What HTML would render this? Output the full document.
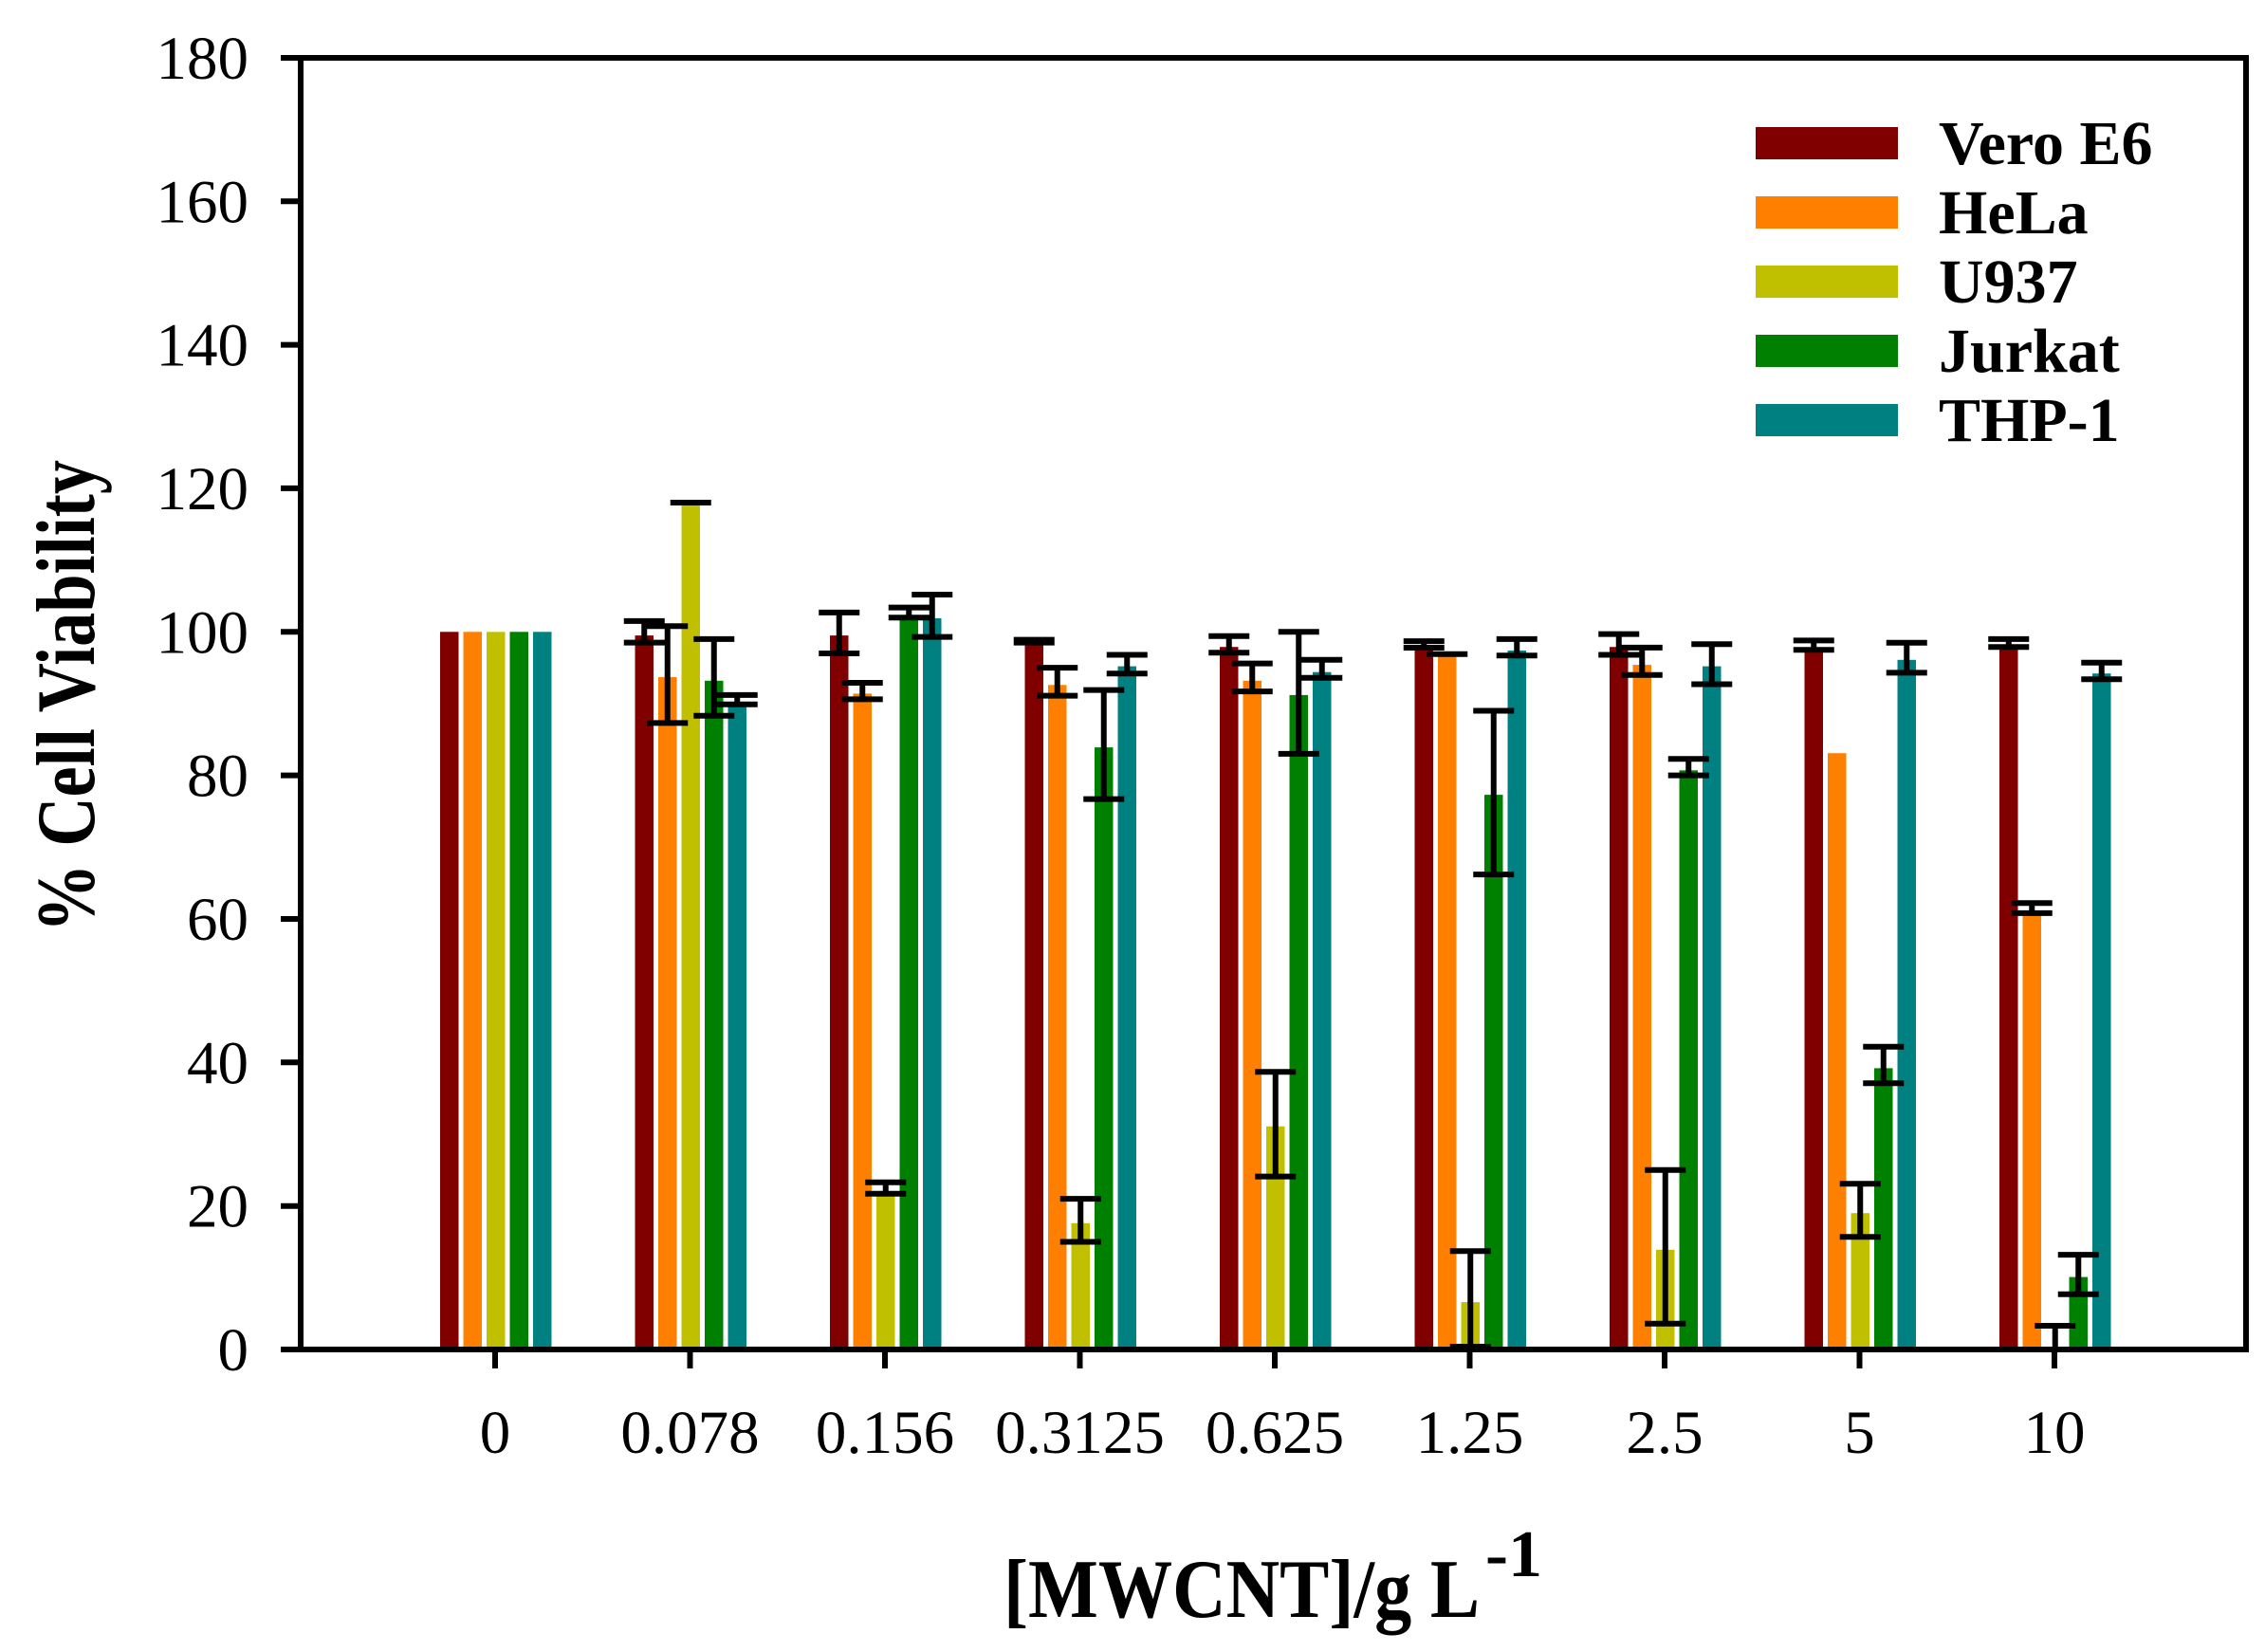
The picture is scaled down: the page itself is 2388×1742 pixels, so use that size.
<!DOCTYPE html>
<html><head><meta charset="utf-8"><style>html,body{margin:0;padding:0;background:#fff}svg{display:block}</style></head>
<body>
<svg width="2388" height="1742" viewBox="0 0 2388 1742" xmlns="http://www.w3.org/2000/svg">
<rect width="2388" height="1742" fill="#fff"/>
<g id="bars">
<g transform="translate(464,0)">
<rect x="0" y="666.3" width="19.5" height="753.7" fill="#800000"/>
<rect x="24.5" y="666.3" width="19.5" height="753.7" fill="#ff8000"/>
<rect x="49" y="666.3" width="19.5" height="753.7" fill="#c0c000"/>
<rect x="73.5" y="666.3" width="19.5" height="753.7" fill="#008000"/>
<rect x="98" y="666.3" width="19.5" height="753.7" fill="#008080"/>
</g>
<g transform="translate(669.5,0)">
<rect x="0" y="670.1" width="19.5" height="749.9" fill="#800000"/>
<rect x="24.5" y="714" width="19.5" height="706" fill="#ff8000"/>
<rect x="49" y="530.1" width="19.5" height="889.9" fill="#c0c000"/>
<rect x="73.5" y="717.8" width="19.5" height="702.2" fill="#008000"/>
<rect x="98" y="743.5" width="19.5" height="676.5" fill="#008080"/>
<path fill="none" stroke="#000" stroke-width="6" d="M-11.75 654.9h43M9.75 654.9V677.6M-11.75 677.6h43 M12.75 660.2h43M34.25 660.2V762.4M12.75 762.4h43 M37.25 530h43 M61.75 673.9h43M83.25 673.9V754.8M61.75 754.8h43 M86.25 732.9h43M107.75 732.9V742.7M86.25 742.7h43"/>
</g>
<g transform="translate(875,0)">
<rect x="0" y="670.1" width="19.5" height="749.9" fill="#800000"/>
<rect x="24.5" y="731.4" width="19.5" height="688.6" fill="#ff8000"/>
<rect x="49" y="1256.5" width="19.5" height="163.5" fill="#c0c000"/>
<rect x="73.5" y="648.9" width="19.5" height="771.1" fill="#008000"/>
<rect x="98" y="651.9" width="19.5" height="768.1" fill="#008080"/>
<path fill="none" stroke="#000" stroke-width="6" d="M-11.75 645.9h43M9.75 645.9V689M-11.75 689h43 M12.75 720h43M34.25 720V737.4M12.75 737.4h43 M37.25 1246.7h43M58.75 1246.7V1258.8M37.25 1258.8h43 M61.75 640.6h43M83.25 640.6V651.2M61.75 651.2h43 M86.25 627h43M107.75 627V671.6M86.25 671.6h43"/>
</g>
<g transform="translate(1080.5,0)">
<rect x="0" y="676.1" width="19.5" height="743.9" fill="#800000"/>
<rect x="24.5" y="722.3" width="19.5" height="697.7" fill="#ff8000"/>
<rect x="49" y="1289.8" width="19.5" height="130.2" fill="#c0c000"/>
<rect x="73.5" y="788.1" width="19.5" height="631.9" fill="#008000"/>
<rect x="98" y="702.6" width="19.5" height="717.4" fill="#008080"/>
<path fill="none" stroke="#000" stroke-width="6" d="M-11.75 674.6h43M9.75 674.6V677.6M-11.75 677.6h43 M12.75 704.1h43M34.25 704.1V733.6M12.75 733.6h43 M37.25 1264.1h43M58.75 1264.1V1309.5M37.25 1309.5h43 M61.75 727.6h43M83.25 727.6V842.6M61.75 842.6h43 M86.25 690.5h43M107.75 690.5V710.2M86.25 710.2h43"/>
</g>
<g transform="translate(1286,0)">
<rect x="0" y="682.2" width="19.5" height="737.8" fill="#800000"/>
<rect x="24.5" y="717.8" width="19.5" height="702.2" fill="#ff8000"/>
<rect x="49" y="1187.7" width="19.5" height="232.3" fill="#c0c000"/>
<rect x="73.5" y="732.9" width="19.5" height="687.1" fill="#008000"/>
<rect x="98" y="708.7" width="19.5" height="711.3" fill="#008080"/>
<path fill="none" stroke="#000" stroke-width="6" d="M-11.75 670.8h43M9.75 670.8V688.2M-11.75 688.2h43 M12.75 699.6h43M34.25 699.6V729.1M12.75 729.1h43 M37.25 1130.2h43M58.75 1130.2V1240.6M37.25 1240.6h43 M61.75 666.3h43M83.25 666.3V794.9M61.75 794.9h43 M86.25 695.8h43M107.75 695.8V714.7M86.25 714.7h43"/>
</g>
<g transform="translate(1491.5,0)">
<rect x="0" y="686" width="19.5" height="734" fill="#800000"/>
<rect x="24.5" y="689.8" width="19.5" height="730.2" fill="#ff8000"/>
<rect x="49" y="1373.1" width="19.5" height="46.9" fill="#c0c000"/>
<rect x="73.5" y="838.1" width="19.5" height="581.9" fill="#008000"/>
<rect x="98" y="686" width="19.5" height="734" fill="#008080"/>
<path fill="none" stroke="#000" stroke-width="6" d="M-11.75 676.1h43M9.75 676.1V683M-11.75 683h43 M12.75 689.8h43 M37.25 1319.3h43M58.75 1319.3V1420M37.25 1420h43 M61.75 749.5h43M83.25 749.5V922.1M61.75 922.1h43 M86.25 673.9h43M107.75 673.9V691.3M86.25 691.3h43"/>
</g>
<g transform="translate(1697,0)">
<rect x="0" y="682.2" width="19.5" height="737.8" fill="#800000"/>
<rect x="24.5" y="701.1" width="19.5" height="718.9" fill="#ff8000"/>
<rect x="49" y="1317.8" width="19.5" height="102.2" fill="#c0c000"/>
<rect x="73.5" y="812.3" width="19.5" height="607.7" fill="#008000"/>
<rect x="98" y="702.6" width="19.5" height="717.4" fill="#008080"/>
<path fill="none" stroke="#000" stroke-width="6" d="M-11.75 668.6h43M9.75 668.6V690.5M-11.75 690.5h43 M12.75 682.9h43M34.25 682.9V711.7M12.75 711.7h43 M37.25 1233.8h43M58.75 1233.8V1395.8M37.25 1395.8h43 M61.75 800.2h43M83.25 800.2V817.6M61.75 817.6h43 M86.25 679.2h43M107.75 679.2V721.5M86.25 721.5h43"/>
</g>
<g transform="translate(1902.5,0)">
<rect x="0" y="686" width="19.5" height="734" fill="#800000"/>
<rect x="24.5" y="794.2" width="19.5" height="625.8" fill="#ff8000"/>
<rect x="49" y="1279.2" width="19.5" height="140.8" fill="#c0c000"/>
<rect x="73.5" y="1126.4" width="19.5" height="293.6" fill="#008000"/>
<rect x="98" y="695.8" width="19.5" height="724.2" fill="#008080"/>
<path fill="none" stroke="#000" stroke-width="6" d="M-11.75 675.4h43M9.75 675.4V685.2M-11.75 685.2h43 M37.25 1248.2h43M58.75 1248.2V1304.2M37.25 1304.2h43 M61.75 1103.7h43M83.25 1103.7V1142.3M61.75 1142.3h43 M86.25 677.7h43M107.75 677.7V709.4M86.25 709.4h43"/>
</g>
<g transform="translate(2108,0)">
<rect x="0" y="682.2" width="19.5" height="737.8" fill="#800000"/>
<rect x="24.5" y="965.2" width="19.5" height="454.8" fill="#ff8000"/>
<rect x="73.5" y="1346.6" width="19.5" height="73.4" fill="#008000"/>
<rect x="98" y="710.2" width="19.5" height="709.8" fill="#008080"/>
<path fill="none" stroke="#000" stroke-width="6" d="M-11.75 673.9h43M9.75 673.9V682.2M-11.75 682.2h43 M12.75 952.3h43M34.25 952.3V962.9M12.75 962.9h43 M37.25 1398h43M58.75 1398V1423 M61.75 1323.1h43M83.25 1323.1V1364.7M61.75 1364.7h43 M86.25 698.8h43M107.75 698.8V716.2M86.25 716.2h43"/>
</g>
</g>
<g fill="none" stroke="#000" stroke-width="6">
<path d="M296 61H2368V1423H296 M317 61V1423"/>
<path d="M296 1271.7h21M296 1120.3h21M296 969h21M296 817.6h21M296 666.3h21M296 514.9h21M296 363.6h21M296 212.3h21"/>
<path d="M522 1423v20M727.5 1423v20M933 1423v20M1138.5 1423v20M1344 1423v20M1549.5 1423v20M1755 1423v20M1960.5 1423v20M2166 1423v20"/>
</g>
<g font-family="'Liberation Serif', serif" font-size="65" fill="#000" text-anchor="end">
<text x="262" y="1445">0</text>
<text x="262" y="1293.7">20</text>
<text x="262" y="1142.3">40</text>
<text x="262" y="991">60</text>
<text x="262" y="839.6">80</text>
<text x="262" y="688.3">100</text>
<text x="262" y="536.9">120</text>
<text x="262" y="385.6">140</text>
<text x="262" y="234.3">160</text>
<text x="262" y="83">180</text>
</g>
<g font-family="'Liberation Serif', serif" font-size="65" fill="#000" text-anchor="middle">
<text x="522" y="1532">0</text>
<text x="727.5" y="1532">0.078</text>
<text x="933" y="1532">0.156</text>
<text x="1138.5" y="1532">0.3125</text>
<text x="1344" y="1532">0.625</text>
<text x="1549.5" y="1532">1.25</text>
<text x="1755" y="1532">2.5</text>
<text x="1960.5" y="1532">5</text>
<text x="2166" y="1532">10</text>
</g>
<g font-family="'Liberation Serif', serif" font-weight="bold" fill="#000">
<text x="1058" y="1705" font-size="88" textLength="502" lengthAdjust="spacingAndGlyphs">[MWCNT]/g L</text>
<text x="1566" y="1662" font-size="70" textLength="60" lengthAdjust="spacingAndGlyphs">-1</text>
<text transform="translate(99,983) rotate(-90)" font-size="88" textLength="498" lengthAdjust="spacingAndGlyphs">% Cell Viability</text>
</g>
<rect x="1851" y="134" width="150" height="34" fill="#800000"/>
<rect x="1851" y="207" width="150" height="34" fill="#ff8000"/>
<rect x="1851" y="280" width="150" height="34" fill="#c0c000"/>
<rect x="1851" y="353" width="150" height="34" fill="#008000"/>
<rect x="1851" y="426" width="150" height="34" fill="#008080"/>
<g font-family="'Liberation Serif', serif" font-weight="bold" font-size="66" fill="#000">
<text x="2044" y="173">Vero E6</text>
<text x="2044" y="246">HeLa</text>
<text x="2044" y="319">U937</text>
<text x="2044" y="392">Jurkat</text>
<text x="2044" y="465">THP-1</text>
</g>
</svg>
</body></html>
